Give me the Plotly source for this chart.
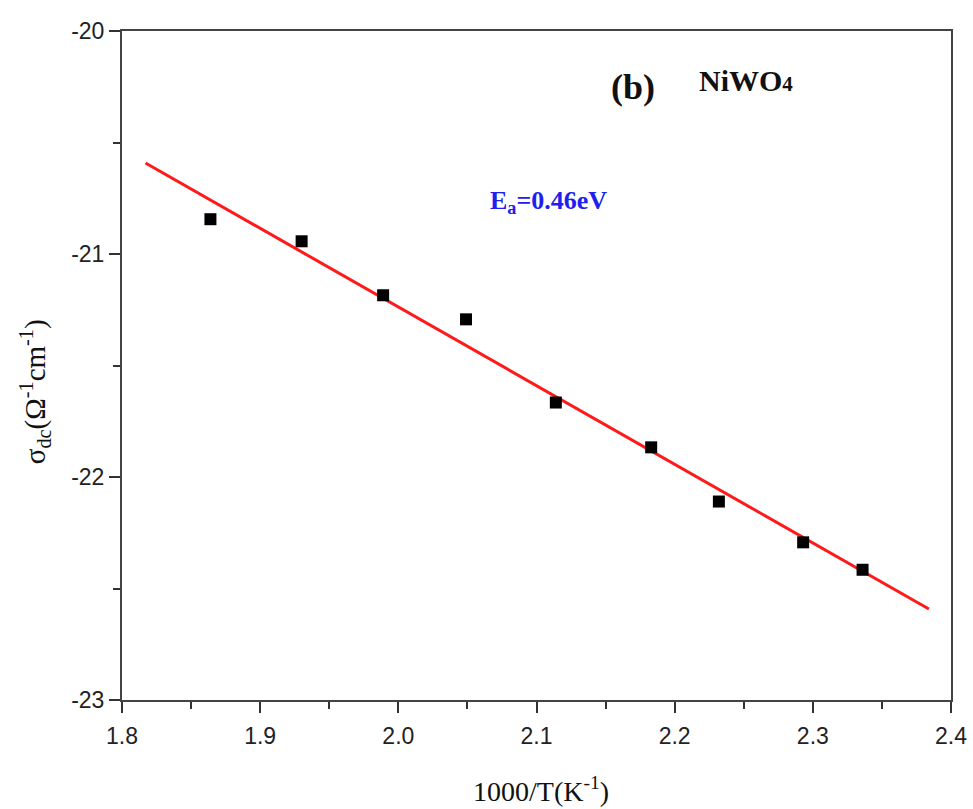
import plotly.graph_objects as go

# Data
inv_T = [1.864, 1.930, 1.989, 2.049, 2.114, 2.183, 2.232, 2.293, 2.336]
sigma_dc = [-20.844, -20.943, -21.185, -21.293, -21.666, -21.867, -22.110, -22.293, -22.416]

# Linear fit line endpoints (as drawn)
fit_x = [1.817, 2.384]
fit_y = [-20.592, -22.592]

x_ticks = [1.8, 1.9, 2.0, 2.1, 2.2, 2.3, 2.4]
x_tick_labels = ["1.8", "1.9", "2.0", "2.1", "2.2", "2.3", "2.4"]
y_ticks = [-23, -22, -21, -20]
y_tick_labels = ["-23", "-22", "-21", "-20"]

x_title = "1000/T(K<sup>-1</sup>)"
y_title = "σ<sub>dc</sub>(Ω<sup>-1</sup>cm<sup>-1</sup>)"

SERIF = "Liberation Serif, Times New Roman, serif"
SANS = "Liberation Sans Narrow, Liberation Sans, Arial, sans-serif"

fig = go.Figure()
fig.add_trace(go.Scatter(x=fit_x, y=fit_y, mode="lines",
                         line=dict(color="#ff1a1a", width=3), showlegend=False))
fig.add_trace(go.Scatter(x=inv_T, y=sigma_dc, mode="markers",
                         marker=dict(symbol="square", size=12, color="black"),
                         showlegend=False))

axis_common = dict(showline=True, linecolor="#444444", linewidth=2, mirror=True,
                   showgrid=False, zeroline=False, ticks="outside", ticklen=11,
                   tickwidth=2, tickcolor="#333333", automargin=False,
                   ticklabeloverflow="allow",
                   tickfont=dict(family=SANS, size=23, color="#222"))

fig.update_xaxes(range=[1.8, 2.4], tickvals=x_ticks, ticktext=x_tick_labels,
                 ticklabelstandoff=3,
                 minor=dict(dtick=0.05, ticks="outside", ticklen=7, tickwidth=2, tickcolor="#333333"),
                 **axis_common)
fig.update_yaxes(range=[-23, -20], tickvals=y_ticks, ticktext=y_tick_labels,
                 minor=dict(dtick=0.5, ticks="outside", ticklen=7, tickwidth=2, tickcolor="#333333"),
                 **axis_common)

# axis titles placed as annotations (pixel offsets from the plot edges)
fig.add_annotation(x=0.5, y=0, xref="paper", yref="paper", text=x_title, showarrow=False,
                   xanchor="center", yanchor="middle", xshift=4, yshift=-89,
                   font=dict(family=SERIF, size=28, color="#111"))
fig.add_annotation(x=0, y=0.46, xref="paper", yref="paper", text=y_title, showarrow=False,
                   textangle=-90, xanchor="center", yanchor="middle", xshift=-87,
                   font=dict(family=SERIF, size=29, color="#111"))

fig.add_annotation(x=2.1698, y=-20.251, xref="x", yref="y", text="<b>(b)</b>", showarrow=False,
                   font=dict(family=SERIF, size=36, color="#111"))
fig.add_annotation(x=2.2516, y=-20.224, xref="x", yref="y",
                   text="<b>NiWO<span style='font-size:21px'>4</span></b>", showarrow=False,
                   font=dict(family=SERIF, size=30, color="#111"))
fig.add_annotation(x=2.109, y=-20.768, xref="x", yref="y",
                   text="<b>E<sub>a</sub>=0.46eV</b>", showarrow=False,
                   font=dict(family=SERIF, size=26, color="#2020ee"))

fig.update_layout(width=973, height=809, plot_bgcolor="white", paper_bgcolor="white",
                  margin=dict(l=122, r=22, t=31, b=109, autoexpand=False))

fig.write_html("out.html", config={"displayModeBar": False},
               post_script="document.body.style.margin='0';document.body.style.overflow='hidden';")
